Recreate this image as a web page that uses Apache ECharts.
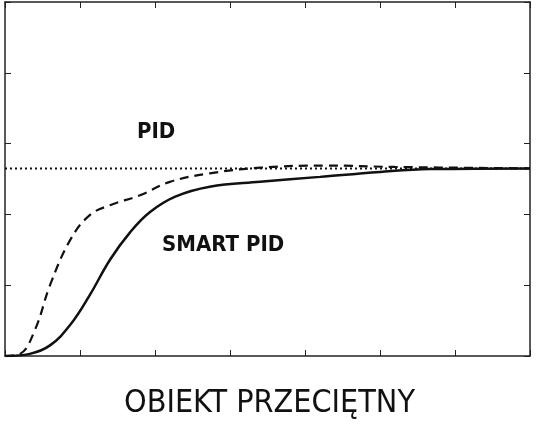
<!DOCTYPE html>
<html><head><meta charset="utf-8">
<script src="https://cdn.jsdelivr.net/npm/echarts@6/dist/echarts.min.js"></script>
<style>html,body{margin:0;padding:0;background:#fff}#c{width:539px;height:440px}</style>
</head><body><div id="c"></div>
<script>
const titleText = "OBIEKT PRZECIĘTNY";
const setpoint = 2.65;
const smartPid = [[0,0],[0.33,0.03],[0.6,0.15],[0.87,0.44],[1.13,0.86],[1.4,1.36],[1.67,1.75],[1.93,2.03],[2.27,2.25],[2.73,2.39],[3.4,2.46],[4.2,2.53],[5,2.6],[5.67,2.64],[7,2.65]];
const pid = [[0,0],[0.2,0.03],[0.4,0.37],[0.6,1.0],[0.87,1.64],[1.13,1.99],[1.4,2.13],[1.8,2.27],[2.2,2.46],[2.73,2.58],[3.4,2.66],[4.27,2.69],[5.2,2.67],[7,2.65]];
const ref = [[0,setpoint],[7,setpoint]];
const chart = echarts.init(document.getElementById('c'));
const ax = {show:true,onZero:false,lineStyle:{color:'#222',width:1.5}};
const tk = {inside:true,length:6,lineStyle:{color:'#222'}};
chart.setOption({
  animation:false,
  title:{text:titleText,left:'center',top:383,textStyle:{fontFamily:'DejaVu Sans Condensed, DejaVu Sans',fontWeight:'normal',fontSize:32,color:'#111'}},
  grid:{left:5,right:9,top:2,bottom:84},
  xAxis:[{type:'value',min:0,max:7,interval:1,axisLine:ax,axisTick:tk,axisLabel:{show:false},splitLine:{show:false}},
         {type:'value',position:'top',min:0,max:7,interval:1,axisLine:ax,axisTick:tk,axisLabel:{show:false},splitLine:{show:false}}],
  yAxis:[{type:'value',min:0,max:5,interval:1,axisLine:ax,axisTick:tk,axisLabel:{show:false},splitLine:{show:false}},
         {type:'value',position:'right',min:0,max:5,interval:1,axisLine:ax,axisTick:tk,axisLabel:{show:false},splitLine:{show:false}}],
  series:[
    {type:'line',data:ref,showSymbol:false,lineStyle:{color:'#111',width:2,type:[2,3]}},
    {type:'line',data:pid,smooth:0.4,showSymbol:false,lineStyle:{color:'#111',width:2.2,type:[9,6]}},
    {type:'line',data:smartPid,smooth:0.4,showSymbol:false,lineStyle:{color:'#111',width:2.5}}
  ],
  graphic:[
    {type:'text',left:137,top:121,style:{text:'PID',font:'bold 22px "DejaVu Sans Condensed", "DejaVu Sans"',fill:'#111'}},
    {type:'text',left:162,top:234,style:{text:'SMART PID',font:'bold 22px "DejaVu Sans Condensed", "DejaVu Sans"',fill:'#111'}}
  ]
});
</script></body></html>
